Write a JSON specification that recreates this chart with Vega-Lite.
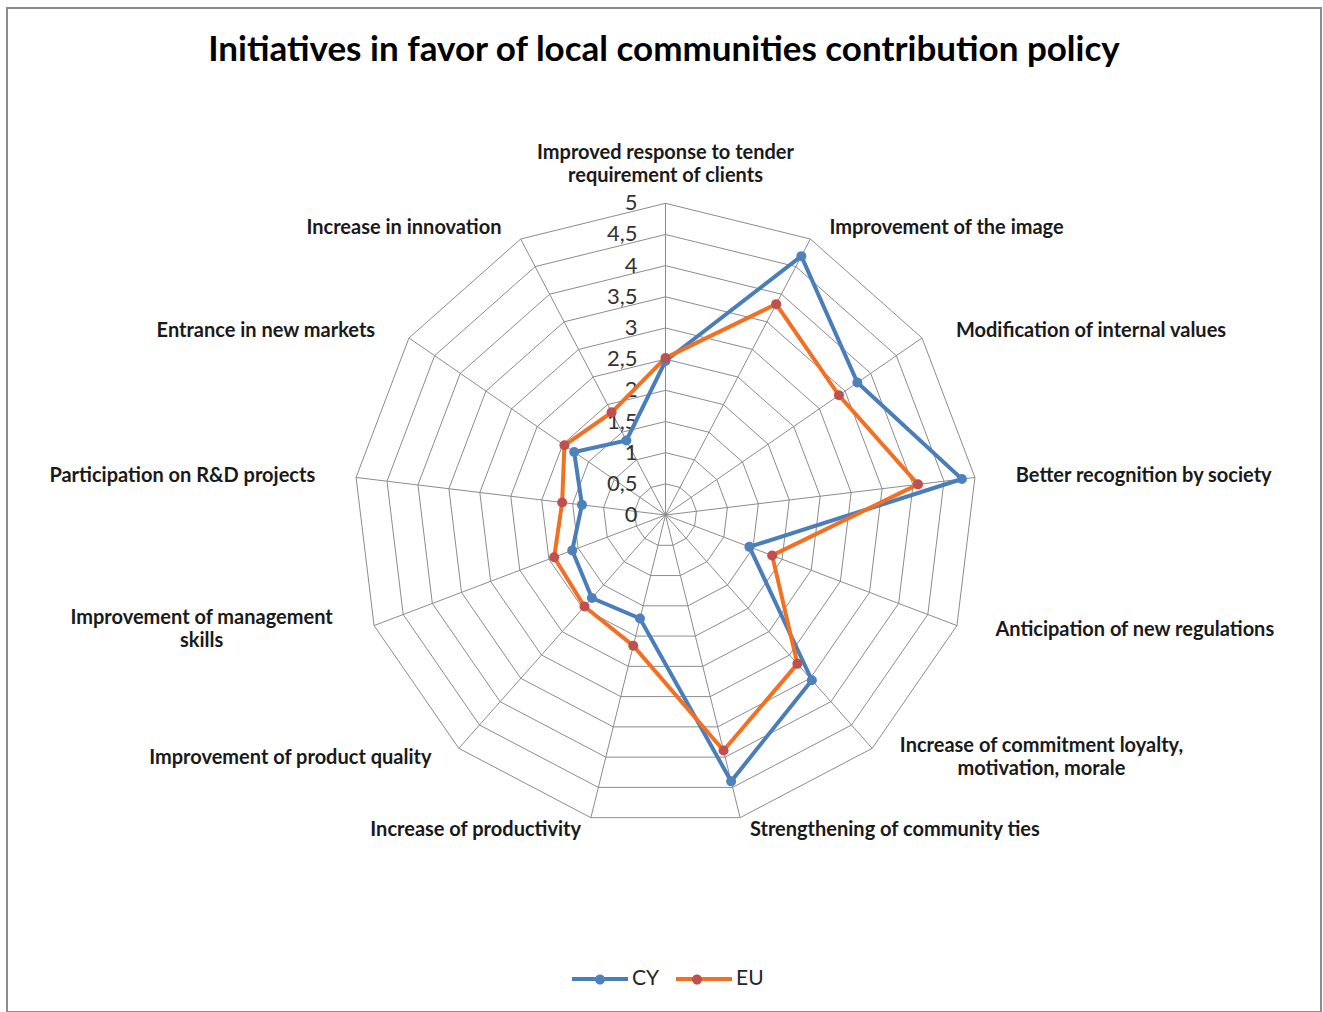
{
  "$schema": "https://vega.github.io/schema/vega-lite/v6.json",
  "width": 1314,
  "height": 1004,
  "autosize": {"type": "none"},
  "padding": {"left": 7, "top": 8, "right": 2, "bottom": 0},
  "background": "white",
  "config": {
    "view": {"stroke": "#8C8C8C", "strokeWidth": 2},
    "font": "Lato",
    "axis": {"disable": true}
  },
  "title": {
    "text": "Initiatives in favor of local communities contribution policy",
    "font": "Lato",
    "fontSize": 35,
    "fontWeight": "bold",
    "color": "#000000",
    "anchor": "middle",
    "frame": "group",
    "orient": "top",
    "offset": -60
  },
  "datasets": {
    "scores": [
      {"idx": 0, "label": "Improved response to tender\nrequirement of clients", "CY": 2.47, "EU": 2.52},
      {"idx": 1, "label": "Improvement of the image", "CY": 4.69, "EU": 3.82},
      {"idx": 2, "label": "Modification of internal values", "CY": 3.74, "EU": 3.38},
      {"idx": 3, "label": "Better recognition by society", "CY": 4.79, "EU": 4.08},
      {"idx": 4, "label": "Anticipation of new regulations", "CY": 1.44, "EU": 1.83},
      {"idx": 5, "label": "Increase of commitment loyalty,\nmotivation, morale", "CY": 3.54, "EU": 3.19},
      {"idx": 6, "label": "Strengthening of community ties", "CY": 4.40, "EU": 3.89},
      {"idx": 7, "label": "Increase of productivity", "CY": 1.71, "EU": 2.16},
      {"idx": 8, "label": "Improvement of product quality", "CY": 1.78, "EU": 1.96},
      {"idx": 9, "label": "Improvement of management\nskills", "CY": 1.60, "EU": 1.91},
      {"idx": 10, "label": "Participation on R&D projects", "CY": 1.35, "EU": 1.67},
      {"idx": 11, "label": "Entrance in new markets", "CY": 1.78, "EU": 1.97},
      {"idx": 12, "label": "Increase in innovation", "CY": 1.35, "EU": 1.86}
    ],
    "grid": [
      {"levels": [0.5, 1, 1.5, 2, 2.5, 3, 3.5, 4, 4.5, 5], "spokes": [0, 1, 2, 3, 4, 5, 6, 7, 8, 9, 10, 11, 12]}
    ],
    "ticks": [
      {"level": 0, "tick": "0"},
      {"level": 0.5, "tick": "0,5"},
      {"level": 1, "tick": "1"},
      {"level": 1.5, "tick": "1,5"},
      {"level": 2, "tick": "2"},
      {"level": 2.5, "tick": "2,5"},
      {"level": 3, "tick": "3"},
      {"level": 3.5, "tick": "3,5"},
      {"level": 4, "tick": "4"},
      {"level": 4.5, "tick": "4,5"},
      {"level": 5, "tick": "5"}
    ]
  },
  "layer": [
    {
      "data": {"name": "grid"},
      "transform": [
        {"flatten": ["levels"], "as": ["level"]},
        {"flatten": ["spokes"], "as": ["idx"]},
        {"calculate": "datum.idx * 2 * PI / 13", "as": "a0"},
        {"calculate": "(datum.idx + 1) * 2 * PI / 13", "as": "a1"},
        {"calculate": "datum.level * sin(datum.a0)", "as": "gx"},
        {"calculate": "datum.level * cos(datum.a0)", "as": "gy"},
        {"calculate": "datum.level * sin(datum.a1)", "as": "gx2"},
        {"calculate": "datum.level * cos(datum.a1)", "as": "gy2"}
      ],
      "mark": {"type": "rule", "color": "#8C8C8C", "strokeWidth": 1},
      "encoding": {
        "x": {"field": "gx", "type": "quantitative", "scale": {"domain": [-10.563, 10.515], "nice": false, "zero": false}, "axis": null},
        "y": {"field": "gy", "type": "quantitative", "scale": {"domain": [-7.972, 8.133], "nice": false, "zero": false}, "axis": null},
        "x2": {"field": "gx2"},
        "y2": {"field": "gy2"}
      }
    },
    {
      "data": {"name": "scores"},
      "transform": [
        {"calculate": "datum.idx * 2 * PI / 13", "as": "a"},
        {"calculate": "5 * sin(datum.a)", "as": "sx"},
        {"calculate": "5 * cos(datum.a)", "as": "sy"},
        {"calculate": "0", "as": "origin"}
      ],
      "mark": {"type": "rule", "color": "#8C8C8C", "strokeWidth": 1},
      "encoding": {
        "x": {"field": "sx", "type": "quantitative"},
        "y": {"field": "sy", "type": "quantitative"},
        "x2": {"field": "origin"},
        "y2": {"field": "origin"}
      }
    },
    {
      "data": {"name": "ticks"},
      "transform": [
        {"calculate": "0", "as": "origin"}
      ],
      "mark": {"type": "text", "align": "right", "baseline": "middle", "dx": -28, "fontSize": 22, "color": "#333333", "font": "Lato"},
      "encoding": {
        "x": {"field": "origin", "type": "quantitative"},
        "y": {"field": "level", "type": "quantitative"},
        "text": {"field": "tick", "type": "nominal"}
      }
    },
    {
      "data": {"name": "scores"},
      "transform": [
        {"fold": ["CY", "EU"], "as": ["series", "value"]},
        {"calculate": "datum.idx * 2 * PI / 13", "as": "a"},
        {"calculate": "datum.value * sin(datum.a)", "as": "px"},
        {"calculate": "datum.value * cos(datum.a)", "as": "py"}
      ],
      "mark": {"type": "line", "interpolate": "linear-closed", "strokeWidth": 4},
      "encoding": {
        "x": {"field": "px", "type": "quantitative"},
        "y": {"field": "py", "type": "quantitative"},
        "order": {"field": "idx", "type": "quantitative"},
        "color": {
          "field": "series", "type": "nominal",
          "scale": {"range": ["#4A7EBB", "#F36F21"]},
          "legend": {
            "title": null, "orient": "none", "legendX": 563, "legendY": 941,
            "direction": "horizontal", "symbolType": "M-1,0H1", "symbolSize": 3136,
            "symbolStrokeWidth": 4, "labelFontSize": 21, "labelFont": "Lato", "labelColor": "#262626",
            "labelOffset": 2, "columnPadding": 8, "padding": 0, "zindex": 0
          }
        }
      }
    },
    {
      "data": {"name": "scores"},
      "transform": [
        {"fold": ["CY", "EU"], "as": ["serie", "value"]},
        {"calculate": "datum.idx * 2 * PI / 13", "as": "a"},
        {"calculate": "datum.value * sin(datum.a)", "as": "px"},
        {"calculate": "datum.value * cos(datum.a)", "as": "py"}
      ],
      "mark": {"type": "point", "filled": true, "size": 100, "opacity": 1, "strokeWidth": 0},
      "encoding": {
        "x": {"field": "px", "type": "quantitative"},
        "y": {"field": "py", "type": "quantitative"},
        "fill": {
          "field": "serie", "type": "nominal",
          "scale": {"range": ["#4F81BD", "#C0504D"]},
          "legend": {
            "title": null, "orient": "none", "legendX": 563, "legendY": 941,
            "direction": "horizontal", "symbolType": "M0.18,0A0.18,0.18,0,1,1,-0.18,0A0.18,0.18,0,1,1,0.18,0Z", "symbolSize": 3136,
            "symbolStrokeWidth": 4, "symbolStrokeColor": "transparent", "labelFontSize": 21, "labelFont": "Lato",
            "labelExpr": "''", "labelOffset": 2, "columnPadding": 35, "padding": 0, "zindex": 1
          }
        }
      }
    },
    {
      "data": {"name": "scores"},
      "transform": [
        {"filter": "datum.idx >= 1 && datum.idx <= 6 && datum.idx != 5"},
        {"calculate": "datum.idx * 2 * PI / 13", "as": "a"},
        {"calculate": "5.66 * sin(datum.a)", "as": "lx"},
        {"calculate": "5.2 * cos(datum.a)", "as": "ly"}
      ],
      "mark": {"type": "text", "align": "left", "baseline": "middle", "fontSize": 20, "fontWeight": "bold", "color": "#1A1A1A", "font": "Lato"},
      "encoding": {
        "x": {"field": "lx", "type": "quantitative"},
        "y": {"field": "ly", "type": "quantitative"},
        "text": {"field": "label", "type": "nominal"}
      }
    },
    {
      "data": {"name": "scores"},
      "transform": [
        {"filter": "datum.idx >= 7 && datum.idx != 9"},
        {"calculate": "datum.idx * 2 * PI / 13", "as": "a"},
        {"calculate": "5.66 * sin(datum.a)", "as": "lx"},
        {"calculate": "5.2 * cos(datum.a)", "as": "ly"}
      ],
      "mark": {"type": "text", "align": "right", "baseline": "middle", "fontSize": 20, "fontWeight": "bold", "color": "#1A1A1A", "font": "Lato"},
      "encoding": {
        "x": {"field": "lx", "type": "quantitative"},
        "y": {"field": "ly", "type": "quantitative"},
        "text": {"field": "label", "type": "nominal"}
      }
    },
    {
      "data": {"name": "scores"},
      "transform": [
        {"filter": "datum.idx == 0"},
        {"calculate": "datum.idx * 2 * PI / 13", "as": "a"},
        {"calculate": "5.8 * sin(datum.a)", "as": "lx"},
        {"calculate": "5.8 * cos(datum.a)", "as": "ly"}
      ],
      "mark": {"type": "text", "align": "center", "baseline": "middle", "fontSize": 20, "fontWeight": "bold", "color": "#1A1A1A", "font": "Lato", "lineBreak": "\n", "lineHeight": 23},
      "encoding": {
        "x": {"field": "lx", "type": "quantitative"},
        "y": {"field": "ly", "type": "quantitative"},
        "text": {"field": "label", "type": "nominal"}
      }
    },
    {
      "data": {"name": "scores"},
      "transform": [
        {"filter": "datum.idx == 5"},
        {"calculate": "datum.idx * 2 * PI / 13", "as": "a"},
        {"calculate": "5.66 * sin(datum.a)", "as": "lx"},
        {"calculate": "5.2 * cos(datum.a)", "as": "ly"}
      ],
      "mark": {"type": "text", "align": "center", "baseline": "middle", "dx": 142, "dy": -12, "fontSize": 20, "fontWeight": "bold", "color": "#1A1A1A", "font": "Lato", "lineBreak": "\n", "lineHeight": 23},
      "encoding": {
        "x": {"field": "lx", "type": "quantitative"},
        "y": {"field": "ly", "type": "quantitative"},
        "text": {"field": "label", "type": "nominal"}
      }
    },
    {
      "data": {"name": "scores"},
      "transform": [
        {"filter": "datum.idx == 9"},
        {"calculate": "datum.idx * 2 * PI / 13", "as": "a"},
        {"calculate": "5.66 * sin(datum.a)", "as": "lx"},
        {"calculate": "5.2 * cos(datum.a)", "as": "ly"}
      ],
      "mark": {"type": "text", "align": "center", "baseline": "middle", "dx": -134, "dy": -12, "fontSize": 20, "fontWeight": "bold", "color": "#1A1A1A", "font": "Lato", "lineBreak": "\n", "lineHeight": 23},
      "encoding": {
        "x": {"field": "lx", "type": "quantitative"},
        "y": {"field": "ly", "type": "quantitative"},
        "text": {"field": "label", "type": "nominal"}
      }
    }
  ]
}
